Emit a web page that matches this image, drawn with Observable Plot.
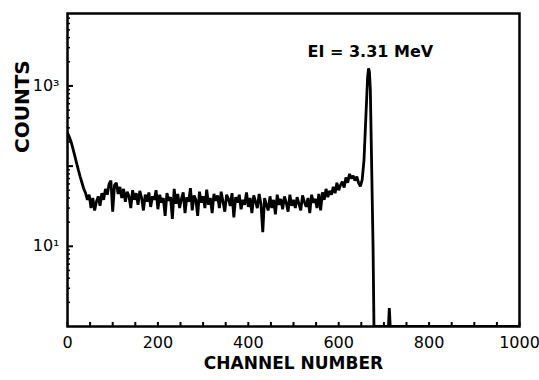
<!DOCTYPE html>
<html>
<head>
<meta charset="utf-8">
<script src="https://cdn.jsdelivr.net/npm/d3@7"></script>
<script src="https://cdn.jsdelivr.net/npm/@observablehq/plot@0.6"></script>
<style>
  html, body { margin: 0; padding: 0; background: #fff; }
  svg { font-family: "DejaVu Sans", sans-serif; }
</style>
</head>
<body>
<div id="chart"></div>
<script>
const channels = [
  0,4,8,12,16,20,24,28,32,36,40,44,48,52,56,60,64,68,72,76,80,84,88,92,96,100,
  104,108,112,116,120,124,128,132,136,140,144,148,152,156,160,164,168,172,176,180,
  184,188,192,196,200,204,208,212,216,220,224,228,232,236,240,244,248,252,256,260,
  264,268,272,276,280,284,288,292,296,300,304,308,312,316,320,324,328,332,336,340,
  344,348,352,356,360,364,368,372,376,380,384,388,392,396,400,404,408,412,416,420,
  424,428,432,436,440,444,448,452,456,460,464,468,472,476,480,484,488,492,496,500,
  504,508,512,516,520,524,528,532,536,540,544,548,552,556,560,564,568,572,576,580,
  584,588,592,596,600,604,608,612,616,620,624,628,632,636,640,644,648,652,656,660,
  664,666,668,670,672,676,678,710,712,714,1000
];
const counts = [
  260,230,200,165,135,110,90,74,62,52,46,38,44,30,40,28,36,42,32,46,38,52,44,60,66,27,
  58,62,45,55,40,52,36,48,42,30,50,38,46,33,49,40,28,44,36,47,
  31,42,38,50,29,44,35,40,24,46,37,41,22,52,34,45,30,39,47,26,
  41,36,53,28,43,38,24,48,35,42,30,51,33,40,26,45,37,43,30,48,
  36,27,44,39,32,46,23,41,35,44,29,38,33,47,31,40,26,43,36,30,
  45,34,15,40,33,28,42,30,38,25,44,33,39,29,42,35,27,44,32,38,
  30,41,34,28,43,36,31,40,26,44,35,39,30,45,28,47,38,52,41,49,
  44,55,46,62,50,58,64,54,72,62,80,70,76,66,74,62,56,68,120,400,
  1300,1650,1500,900,200,10,1,1,1.7,1,1
];
const xMinorTicks = [0,50,100,150,200,250,300,350,400,450,500,550,600,650,700,750,800,850,900,950,1000];
const xTickLabels = [0,200,400,600,800,1000];
const yMajorTicks = [10,100,1000];
const yMinorTicks = [2,3,4,5,6,7,8,9,20,30,40,50,60,70,80,90,200,300,400,500,600,700,800,900,2000,3000,4000,5000,6000,7000];
const yTickLabels = [10,1000];
const yLabelText = {10: "10¹", 1000: "10³"};
const annotation = "EI = 3.31 MeV";
const xTitle = "CHANNEL NUMBER";
const yTitle = "COUNTS";

const data = channels.map((c, i) => ({channel: c, count: counts[i]}));

const chart = Plot.plot({
  width: 539,
  height: 380,
  marginLeft: 67,
  marginRight: 20,
  marginTop: 13,
  marginBottom: 54,
  style: {fontFamily: "DejaVu Sans, sans-serif", background: "#fff", color: "#000"},
  x: {domain: [0, 1000]},
  y: {type: "log", domain: [1, 8000]},
  marks: [
    Plot.axisX({ticks: xMinorTicks, tickSize: -4, tickFormat: () => "", label: null, strokeWidth: 2}),
    Plot.axisX({ticks: xTickLabels, tickSize: 0, tickPadding: 10, fontSize: 16, tickFormat: d => String(d), label: null}),
    Plot.axisY({ticks: yMinorTicks, tickSize: -3, tickFormat: () => "", label: null, strokeWidth: 1.5}),
    Plot.axisY({ticks: yMajorTicks, tickSize: -6, tickFormat: () => "", label: null, strokeWidth: 2}),
    Plot.axisY({ticks: yTickLabels, tickSize: 0, tickPadding: 8, fontSize: 16, tickFormat: d => yLabelText[d], label: null}),
    Plot.line(data, {x: "channel", y: "count", stroke: "#000", strokeWidth: 2.8, strokeLinejoin: "miter", clip: true}),
    Plot.frame({stroke: "#000", strokeWidth: 2.5}),
    Plot.text([annotation], {frameAnchor: "top-left", dx: 240, dy: 32, textAnchor: "start", fontSize: 16, fontWeight: "bold"}),
    Plot.text([xTitle], {frameAnchor: "bottom", dy: 42, fontSize: 17, fontWeight: "bold"}),
    Plot.text([yTitle], {frameAnchor: "left", dx: -45, dy: -17, rotate: -90, fontSize: 20, fontWeight: "bold"})
  ]
});
document.getElementById("chart").appendChild(chart);
</script>
</body>
</html>
